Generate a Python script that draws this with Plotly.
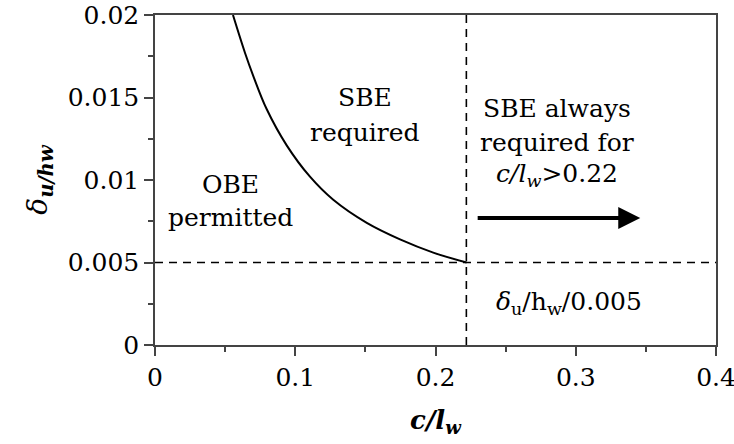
import plotly.graph_objects as go

# Boundary curve (c/lw vs delta_u/hw)
curve_x = [0.0556, 0.0642, 0.0701, 0.0796, 0.0939, 0.1105, 0.1271, 0.151, 0.1747, 0.1984, 0.2222]
curve_y = [0.0200, 0.0177, 0.0163, 0.0143, 0.0121, 0.0102, 0.0088, 0.0074, 0.0064, 0.0056, 0.0050]

# Threshold lines
c_limit = 0.222
drift_limit = 0.005
x_range = [0, 0.4]
y_range = [0, 0.02]

# Tick labels
x_ticks = [0, 0.1, 0.2, 0.3, 0.4]
x_ticklabels = ["0", "0.1", "0.2", "0.3", "0.4"]
y_ticks = [0, 0.005, 0.01, 0.015, 0.02]
y_ticklabels = ["0", "0.005", "0.01", "0.015", "0.02"]

FONT = "DejaVu Serif"
AXC = "#444444"

fig = go.Figure()

fig.add_trace(go.Scatter(x=[x_range[0], x_range[1]], y=[drift_limit, drift_limit], mode="lines",
                         line=dict(color="black", width=1.6, dash="8px,6px"), hoverinfo="skip"))
fig.add_trace(go.Scatter(x=[c_limit, c_limit], y=[y_range[0], y_range[1]], mode="lines",
                         line=dict(color="black", width=1.6, dash="8px,6px"), hoverinfo="skip"))
fig.add_trace(go.Scatter(x=curve_x, y=curve_y, mode="lines", line_shape="spline",
                         line=dict(color="black", width=2, smoothing=1.0), hoverinfo="skip"))

def txt(x, y, s, size=25):
    fig.add_annotation(x=x, y=y, xref="x", yref="y", text=s, showarrow=False,
                       font=dict(family=FONT, size=size, color="black"),
                       xanchor="center", yanchor="middle")

txt(0.0535, 0.0097, "OBE")
txt(0.0535, 0.0077, "permitted")
txt(0.1497, 0.0150, "SBE")
txt(0.1497, 0.01285, "required")
txt(0.2866, 0.01436, "SBE always")
txt(0.2866, 0.0123, "required for")
txt(0.2866, 0.0103, "<i>c/l</i><sub><i>w</i></sub>>0.22")
txt(0.2952, 0.00255, "<i>δ</i><sub>u</sub>/h<sub>w</sub>/0.005")

# Arrow
fig.add_annotation(x=0.346, y=0.0077, ax=0.229, ay=0.0077, xref="x", yref="y",
                   axref="x", ayref="y", text="", showarrow=True,
                   arrowhead=2, arrowsize=1.1, arrowwidth=4, arrowcolor="black")

fig.update_layout(
    width=734, height=444,
    margin=dict(l=155, r=18, t=15, b=99, autoexpand=False),
    paper_bgcolor="white", plot_bgcolor="white",
    showlegend=False,
    font=dict(family=FONT, color="black"),
)
fig.update_xaxes(range=x_range, tickvals=x_ticks, ticktext=x_ticklabels, ticklabeloverflow="allow",
                 automargin=False,
                 showgrid=False, zeroline=False, showline=True, linecolor=AXC, linewidth=1.5,
                 mirror=True, ticks="outside", ticklen=9, tickwidth=1.5, tickcolor=AXC,
                 tickfont=dict(family=FONT, size=25, color="black"),
                 minor=dict(dtick=0.05, tick0=0, ticks="outside", ticklen=5, tickwidth=1.5, tickcolor=AXC),
                 title=dict(text="<b><i>c/l</i></b><sub><b><i>w</i></b></sub>",
                            font=dict(family=FONT, size=26, color="black"), standoff=20))
fig.update_yaxes(range=y_range, tickvals=y_ticks, ticktext=y_ticklabels, ticklabeloverflow="allow",
                 automargin=False,
                 showgrid=False, zeroline=False, showline=True, linecolor=AXC, linewidth=1.5,
                 mirror=True, ticks="outside", ticklen=9, tickwidth=1.5, tickcolor=AXC,
                 tickfont=dict(family=FONT, size=25, color="black"),
                 minor=dict(dtick=0.0025, tick0=0, ticks="outside", ticklen=5, tickwidth=1.5, tickcolor=AXC),
                 title=dict(text="<i>δ</i><sub><b><i>u/h</i></b></sub><sub><b><i>w</i></b></sub>",
                            font=dict(family=FONT, size=28, color="black"), standoff=12))

fig.write_html("out.html", config={"displayModeBar": False},
               post_script="document.body.style.margin='0px';")
